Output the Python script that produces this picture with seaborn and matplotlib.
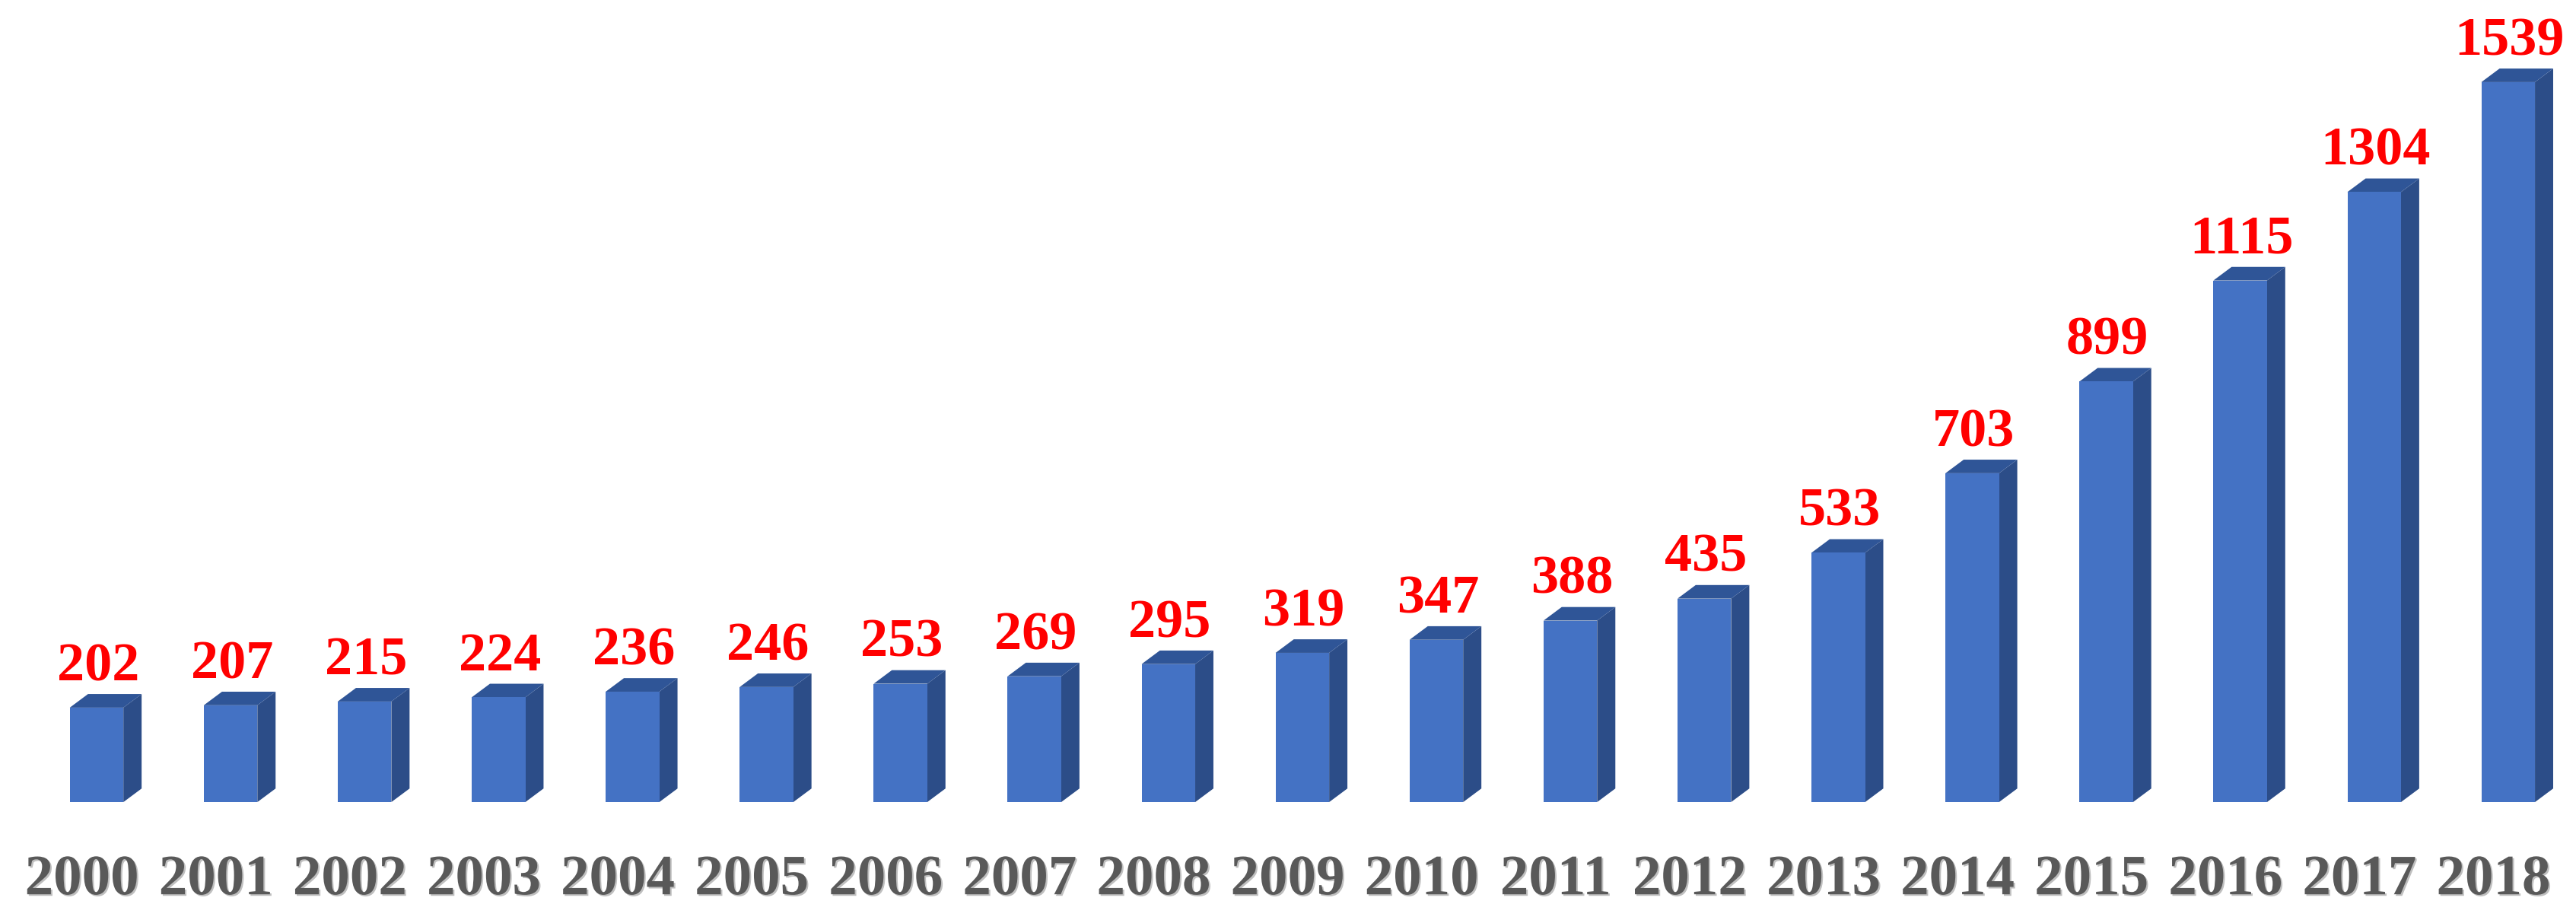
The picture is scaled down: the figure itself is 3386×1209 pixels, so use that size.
import matplotlib
matplotlib.use("Agg")
import matplotlib.pyplot as plt
from matplotlib.patches import Polygon
import matplotlib.patheffects as pe
import seaborn as sns
import pandas as pd

years = ["2000", "2001", "2002", "2003", "2004", "2005", "2006", "2007", "2008", "2009",
         "2010", "2011", "2012", "2013", "2014", "2015", "2016", "2017", "2018"]
counts = [202, 207, 215, 224, 236, 246, 253, 269, 295, 319,
          347, 388, 435, 533, 703, 899, 1115, 1304, 1539]

front_color = "#4472C4"
side_color = "#2C4D88"
top_color = "#2F5597"
value_color = "#FF0000"
year_color = "#595959"

sns.set_theme(style="white")
plt.rcParams["font.family"] = ["Liberation Serif", "DejaVu Serif"]

df = pd.DataFrame({"year": years, "count": counts})

fig = plt.figure(figsize=(33.87, 12.09), dpi=100)
ax = fig.add_axes([0, 0, 1, 1])

bar_w = 0.40
sns.barplot(data=df, x="year", y="count", width=bar_w, color=front_color,
            saturation=1, ax=ax, zorder=3, linewidth=0)

# axis geometry
ax.set_xlim(-0.721, 18.512)
ax.set_ylim(-252, 1714.5)
ax.axis("off")

dx = 0.136   # depth offset in x (data units)
dy = 29.0    # depth offset in y (data units)

for i, v in enumerate(counts):
    xl = i - bar_w / 2
    xr = i + bar_w / 2
    side = Polygon([(xr, 0), (xr + dx, dy), (xr + dx, v + dy), (xr, v)],
                   closed=True, facecolor=side_color, edgecolor="none", zorder=2)
    top = Polygon([(xl, v), (xl + dx, v + dy), (xr + dx, v + dy), (xr, v)],
                  closed=True, facecolor=top_color, edgecolor="none", zorder=2)
    ax.add_patch(side)
    ax.add_patch(top)
    ax.text(i + 0.01, v + dy + 29, str(v), ha="center", va="baseline",
            fontsize=52, fontweight="bold", color=value_color, zorder=4)
    ax.text(i - 0.11, -197, years[i], ha="center", va="baseline",
            fontsize=54, fontweight="bold", color=year_color, zorder=4,
            path_effects=[pe.withSimplePatchShadow(offset=(1.5, -1.5),
                                                   shadow_rgbFace="#000000",
                                                   alpha=0.25)])

fig.savefig("out.png", dpi=100, facecolor="white")
